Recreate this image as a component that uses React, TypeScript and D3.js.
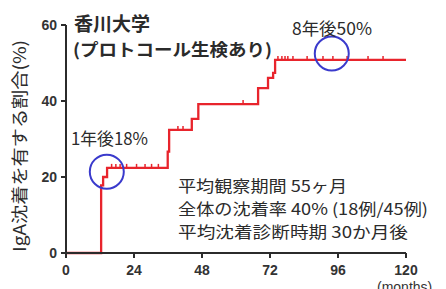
import React from "react";
import * as d3 from "d3";

const stepMonths = [0, 12.4, 13.1, 14.5, 35.9, 36.4, 44.4, 46.7, 67.8, 71.3, 73.1, 73.8, 120];
const stepValues = [0, 17.8, 20.0, 22.4, 26.7, 32.4, 35.3, 39.2, 43.4, 46.1, 47.4, 50.8, 50.8];
const censorMonths = [16.1, 17.6, 19.1, 21.4, 24.9, 27.9, 30.2, 32.6, 39.5, 41.3, 62.5, 74.8, 76.2, 77.3, 78.3, 80.1, 85.1, 90.7, 94.2, 99.2, 106.6, 111.9];
const xTicks = [0, 24, 48, 72, 96, 120];
const yTicks = [0, 20, 40, 60];
const highlightMonths = [14.4, 93.8];
const highlightValues = [21.4, 52.5];
const highlightLabels = ["1年後18%", "8年後50%"];
const titleLines = ["香川大学", "(プロトコール生検あり)"];
const noteLines = ["平均観察期間 55ヶ月", "全体の沈着率 40% (18例/45例)", "平均沈着診断時期 30か月後"];
const yLabel = "IgA沈着を有する割合(%)";
const xUnit = "(months)";

const W = 446, H = 289;
const x = d3.scaleLinear().domain([0, 120]).range([66, 406]);
const y = d3.scaleLinear().domain([0, 60]).range([253, 25]);

const valueAt = (t: number) => {
  let v = 0;
  for (let i = 0; i < stepMonths.length; i++) if (stepMonths[i] <= t) v = stepValues[i];
  return v;
};

const RED = "#e8242c";
const BLUE = "#3a3acc";
const INK = "#2b2b2b";
const JP = "'Noto Sans CJK JP', 'Noto Sans', sans-serif";
const NUM = "'Liberation Sans', Arial, sans-serif";

export default function App() {
  const line = d3
    .line<number>()
    .x((_, i) => x(stepMonths[i]))
    .y((d) => y(d))
    .curve(d3.curveStepAfter);
  const path = line(stepValues) || "";
  return (
    <svg width={W} height={H} style={{ position: "absolute", left: 0, top: 0, background: "#fff" }}>
      <rect width={W} height={H} fill="#fff" />
      <path d={path} fill="none" stroke={RED} strokeWidth={2.3} />
      {censorMonths.map((m, i) => (
        <line key={i} x1={x(m)} x2={x(m)} y1={y(valueAt(m))} y2={y(valueAt(m)) - 4} stroke={RED} strokeWidth={1.5} />
      ))}
      <line x1={x(0)} x2={x(120)} y1={y(0)} y2={y(0)} stroke={INK} strokeWidth={2} />
      <line x1={x(0)} x2={x(0)} y1={y(0)} y2={y(60)} stroke={INK} strokeWidth={2} />
      {xTicks.map((t) => (
        <g key={t}>
          <line x1={x(t)} x2={x(t)} y1={y(0)} y2={y(0) + 5} stroke={INK} strokeWidth={2} />
          <text x={x(t)} y={275} textAnchor="middle" fontFamily={NUM} fontWeight="bold" fontSize={14} fill="#333">
            {t}
          </text>
        </g>
      ))}
      {yTicks.map((t) => (
        <g key={t}>
          <line x1={x(0) - 5} x2={x(0)} y1={y(t)} y2={y(t)} stroke={INK} strokeWidth={2} />
          <text x={57} y={y(t) + 5} textAnchor="end" fontFamily={NUM} fontWeight="bold" fontSize={14} fill="#333">
            {t}
          </text>
        </g>
      ))}
      <text x={377} y={292} fontFamily={NUM} fontSize={14} fill="#333">
        {xUnit}
      </text>
      <text
        transform={`translate(26,146) rotate(-90)`}
        textAnchor="middle"
        fontFamily={JP}
        fontSize={17}
        fill={INK}
        textLength={212}
        lengthAdjust="spacingAndGlyphs"
      >
        {yLabel}
      </text>
      {highlightMonths.map((m, i) => (
        <circle key={i} cx={x(m)} cy={y(highlightValues[i])} r={17} fill="none" stroke={BLUE} strokeWidth={2} />
      ))}
      <text x={71} y={145} fontFamily={JP} fontSize={17} fill={INK} textLength={77} lengthAdjust="spacingAndGlyphs">
        {highlightLabels[0]}
      </text>
      <text x={292} y={35} fontFamily={JP} fontSize={17} fill={INK} textLength={80} lengthAdjust="spacingAndGlyphs">
        {highlightLabels[1]}
      </text>
      <text x={74} y={31} fontFamily={JP} fontWeight="bold" fontSize={19} fill={INK}>
        {titleLines[0]}
      </text>
      <text x={73} y={56} fontFamily={JP} fontWeight="bold" fontSize={17} fill={INK} textLength={199} lengthAdjust="spacingAndGlyphs">
        {titleLines[1]}
      </text>
      {noteLines.map((s, i) => (
        <text key={i} x={178} y={192 + i * 23} fontFamily={JP} fontSize={16} fill={INK}
          textLength={[169, 250, 230][i]} lengthAdjust="spacingAndGlyphs">
          {s}
        </text>
      ))}
    </svg>
  );
}
